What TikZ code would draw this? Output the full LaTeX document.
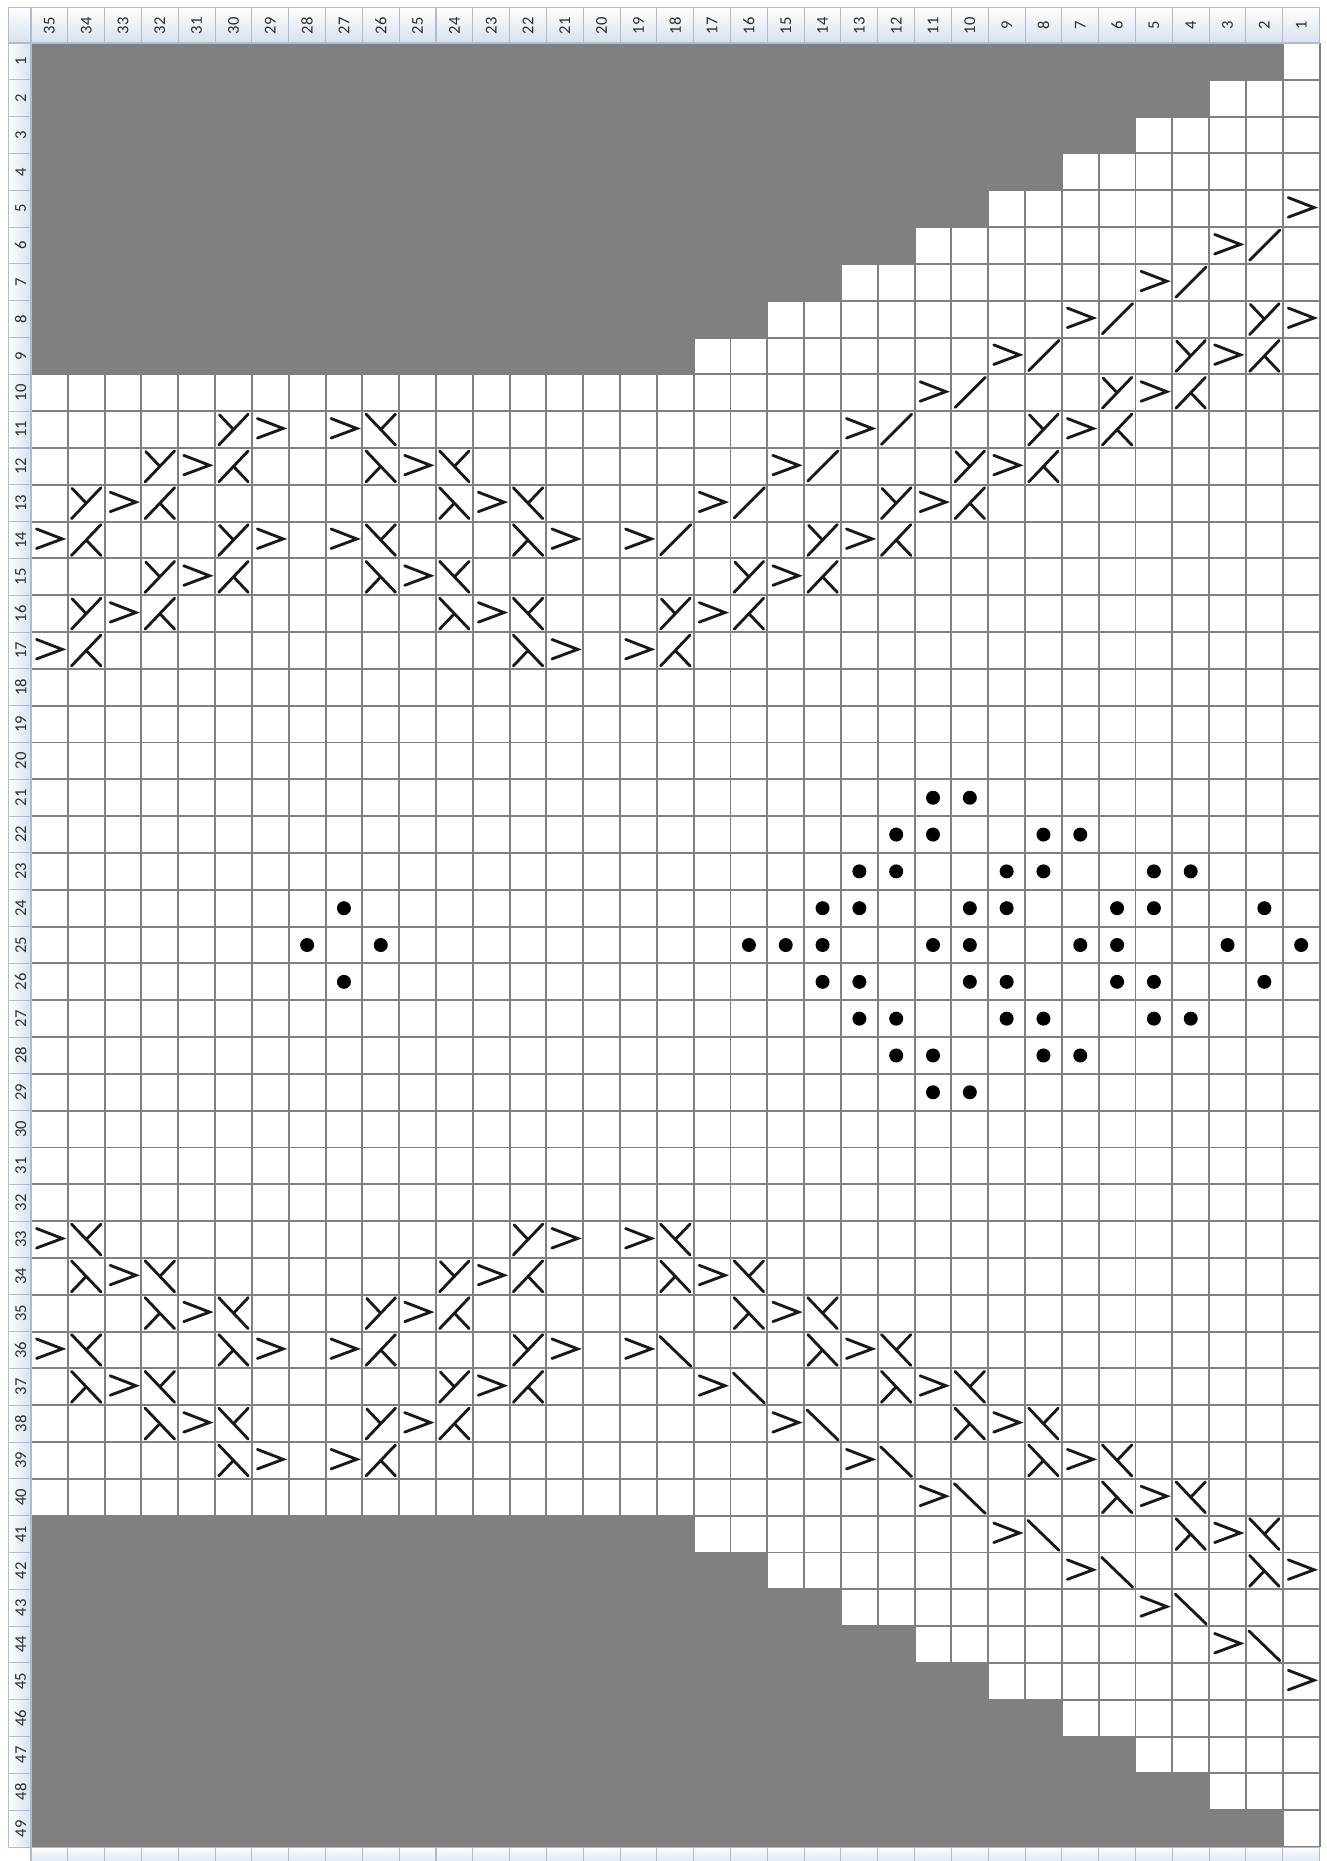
\documentclass[tikz,border=0pt]{standalone}
\usepackage{fontspec}
\setmainfont{Carlito}
\usetikzlibrary{calc}

\definecolor{shadegray}{RGB}{128,128,128}
\definecolor{gridgray}{RGB}{128,128,128}
\definecolor{hdrblue}{RGB}{214,225,238}
\definecolor{hdrline}{RGB}{175,188,205}
\definecolor{labeltext}{RGB}{45,45,45}

\begin{document}
\begin{tikzpicture}[x=0.5cm, y=0.5cm,
    sym/.style={line width=1.1pt, line cap=round, black!90},
    gridline/.style={gridgray, line width=0.75pt},
    hdrcell/.style={draw=hdrline, line width=0.4pt, top color=white, bottom color=hdrblue},
    rowcell/.style={draw=hdrline, line width=0.4pt, left color=white, right color=hdrblue},
    numlabel/.style={rotate=90, font=\fontsize{6.4}{7}\selectfont, text=labeltext, inner sep=0pt},
    pics/gt/.style={code={\draw[sym] (-0.35,0.3) -- (0.35,0.03) -- (-0.35,-0.23);}},
    pics/fslash/.style={code={\draw[sym] (-0.4,-0.4) -- (0.42,0.42);}},
    pics/bslash/.style={code={\draw[sym] (-0.42,0.37) -- (0.42,-0.44);}},
    pics/crossY/.style={code={\draw[sym] (-0.4,-0.42) -- (0.4,0.42); \draw[sym] (-0.38,0.4) -- (0,0);}},
    pics/crossKd/.style={code={\draw[sym] (-0.4,-0.42) -- (0.4,0.42); \draw[sym] (0,0) -- (0.4,-0.42);}},
    pics/crossLd/.style={code={\draw[sym] (-0.4,0.42) -- (0.4,-0.42); \draw[sym] (0,0) -- (-0.4,-0.42);}},
    pics/crossLu/.style={code={\draw[sym] (-0.4,0.42) -- (0.4,-0.42); \draw[sym] (0.4,0.42) -- (0,0);}},
    dot/.style={black, radius=0.19}]

    % Page
    \fill[white] (-0.842,1.168) rectangle (35.19,-49.38);
    \useasboundingbox (-0.842,1.168) rectangle (35.19,-49.38);

    % Shaded corners
    \foreach \r in {1,...,9}
        \fill[shadegray] (0,-\r+1) rectangle (36-2*\r,-\r);
    \foreach \r in {41,...,49}
        \fill[shadegray] (0,-\r+1) rectangle (2*\r-64,-\r);

    % Grid
    \foreach \i in {0,...,35}
        \draw[gridline] (\i,0) -- (\i,-49);
    \foreach \j in {0,...,49}
        \draw[gridline] (0,-\j) -- (35,-\j);

    % Column numbers
    \path[hdrcell] (-0.62,0) rectangle (0,0.97);
    \foreach \c in {1,...,35} {
        \path[hdrcell] (35-\c,0) rectangle (36-\c,0.97);
        \node[numlabel] (col\c) at (35.5-\c,0.47) {\c};
        \path[hdrcell] (35-\c,-49) rectangle (36-\c,-49.5);
    }

    % Row numbers
    \foreach \r in {1,...,49} {
        \path[rowcell] (-0.62,-\r+1) rectangle (0,-\r);
        \node[numlabel] (row\r) at (-0.28,0.5-\r) {\r};
    }

    % Right cable, top
    \pic at (34.5,-4.5) {gt};
    \foreach \r in {6,...,14} {
        \pic at (44.5-2*\r,0.5-\r) {gt};
        \pic at (45.5-2*\r,0.5-\r) {fslash};
    }
    \pic at (33.5,-7.5) {crossY};
    \pic at (34.5,-7.5) {gt};
    \foreach \r in {9,...,16} {
        \pic at (49.5-2*\r,0.5-\r) {crossY};
        \pic at (50.5-2*\r,0.5-\r) {gt};
        \pic at (51.5-2*\r,0.5-\r) {crossKd};
    }
    \pic at (16.5,-16.5) {gt};
    \pic at (17.5,-16.5) {crossKd};

    % Right cable, bottom
    \pic at (16.5,-32.5) {gt};
    \pic at (17.5,-32.5) {crossLu};
    \foreach \r in {34,...,41} {
        \pic at (2*\r-50.5,0.5-\r) {crossLd};
        \pic at (2*\r-49.5,0.5-\r) {gt};
        \pic at (2*\r-48.5,0.5-\r) {crossLu};
    }
    \pic at (33.5,-41.5) {crossLd};
    \pic at (34.5,-41.5) {gt};
    \foreach \r in {36,...,44} {
        \pic at (2*\r-55.5,0.5-\r) {gt};
        \pic at (2*\r-54.5,0.5-\r) {bslash};
    }
    \pic at (34.5,-44.5) {gt};

    % Left and middle cables, top
    \foreach \c/\r in {29/11,31/12,33/13,35/14,29/14,31/15,33/16,35/17,
                       27/11,25/12,23/13,27/14,21/14,25/15,23/16,21/17}
        \pic at (35.5-\c,0.5-\r) {gt};
    \foreach \c/\r in {30/11,32/12,34/13,30/14,32/15,34/16}
        \pic at (35.5-\c,0.5-\r) {crossY};
    \foreach \c/\r in {30/12,32/13,34/14,30/15,32/16,34/17}
        \pic at (35.5-\c,0.5-\r) {crossKd};
    \foreach \c/\r in {26/11,24/12,22/13,26/14,24/15,22/16}
        \pic at (35.5-\c,0.5-\r) {crossLu};
    \foreach \c/\r in {26/12,24/13,22/14,26/15,24/16,22/17}
        \pic at (35.5-\c,0.5-\r) {crossLd};

    % Left and middle cables, bottom
    \foreach \c/\r in {35/33,33/34,31/35,35/36,29/36,33/37,31/38,29/39,
                       21/33,23/34,25/35,27/36,21/36,23/37,25/38,27/39}
        \pic at (35.5-\c,0.5-\r) {gt};
    \foreach \c/\r in {34/33,32/34,30/35,34/36,32/37,30/38}
        \pic at (35.5-\c,0.5-\r) {crossLu};
    \foreach \c/\r in {34/34,32/35,30/36,34/37,32/38,30/39}
        \pic at (35.5-\c,0.5-\r) {crossLd};
    \foreach \c/\r in {22/33,24/34,26/35,22/36,24/37,26/38}
        \pic at (35.5-\c,0.5-\r) {crossY};
    \foreach \c/\r in {22/34,24/35,26/36,22/37,24/38,26/39}
        \pic at (35.5-\c,0.5-\r) {crossKd};

    % Bobbles
    \foreach \c/\r in {27/24,28/25,26/25,27/26,
                       11/21,10/21,
                       12/22,11/22,8/22,7/22,
                       13/23,12/23,9/23,8/23,5/23,4/23,
                       14/24,13/24,10/24,9/24,6/24,5/24,2/24,
                       16/25,15/25,14/25,11/25,10/25,7/25,6/25,3/25,1/25,
                       14/26,13/26,10/26,9/26,6/26,5/26,2/26,
                       13/27,12/27,9/27,8/27,5/27,4/27,
                       12/28,11/28,8/28,7/28,
                       11/29,10/29}
        \fill[dot] (35.5-\c,0.5-\r) circle;
\end{tikzpicture}
\end{document}
